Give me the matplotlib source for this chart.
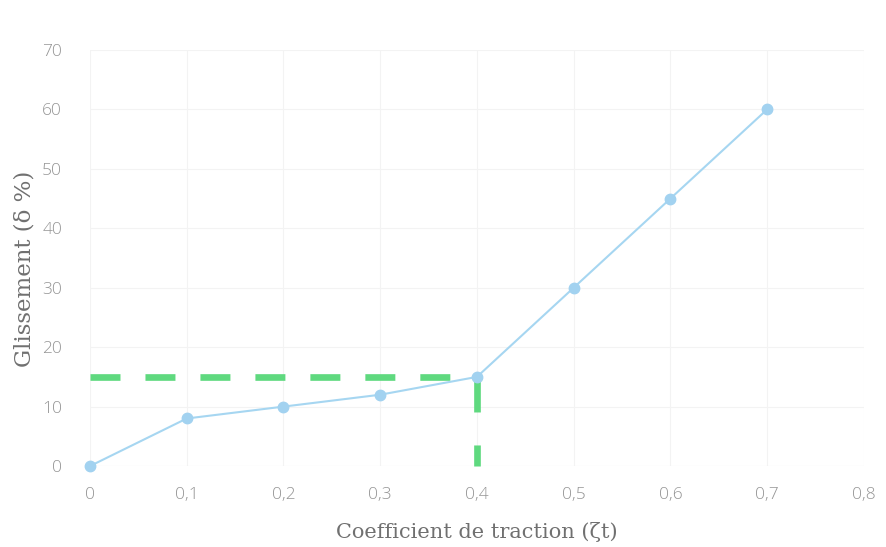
import matplotlib
matplotlib.use("Agg")
import matplotlib.pyplot as plt
from matplotlib.ticker import FuncFormatter

# Traction coefficient vs. wheel slip
traction = [0.0, 0.1, 0.2, 0.3, 0.4, 0.5, 0.6, 0.7]
slip = [0, 8, 10, 12, 15, 30, 45, 60]

# Operating point marked with the dashed guide
op_x = 0.4
op_y = 15

x_ticks = [0, 0.1, 0.2, 0.3, 0.4, 0.5, 0.6, 0.7, 0.8]
y_ticks = [0, 10, 20, 30, 40, 50, 60, 70]

fig = plt.figure(figsize=(8.86, 5.47), dpi=100)
ax = fig.add_axes([0.1016, 0.148, 0.8734, 0.7606])

ax.set_xlim(0, 0.8)
ax.set_ylim(0, 70)
ax.set_xticks(x_ticks)
ax.set_yticks(y_ticks)

ax.grid(True, color="#f3f3f3", linewidth=0.8, zorder=0)
ax.set_axisbelow(True)

for s in ax.spines.values():
    s.set_visible(False)
ax.axhline(0, color="#eeeeee", linewidth=0.8, zorder=1)

ax.plot(traction, slip, color="#a6d6f1", linewidth=1.5, marker="o",
        markersize=7.5, markerfacecolor="#a2d2f0", markeredgecolor="#a2d2f0",
        zorder=3, clip_on=False)

green = "#5fd97f"
lw = 4.8
ax.plot([0, op_x], [op_y, op_y], color=green, linewidth=lw,
        dashes=(30 / 6.67, 25 / 6.67), zorder=2, clip_on=False)
ax.plot([op_x, op_x], [op_y + 0.6, 0], color=green, linewidth=lw,
        dashes=(39 / 6.67, 33 / 6.67), zorder=2, clip_on=False)

fmt = lambda v, pos: ("%g" % v).replace(".", ",")
ax.xaxis.set_major_formatter(FuncFormatter(fmt))
ax.yaxis.set_major_formatter(FuncFormatter(fmt))

ax.tick_params(axis="both", length=0, colors="#959595", labelsize=12.5)
for lbl in ax.get_xticklabels() + ax.get_yticklabels():
    lbl.set_fontfamily("Open Sans")
    lbl.set_fontweight("light")
ax.tick_params(axis="x", pad=15)
ax.tick_params(axis="y", pad=20)

ax.set_xlabel("Coefficient de traction (ζt)", family="DejaVu Serif",
              fontsize=15, color="#707070", labelpad=14)
ax.set_ylabel("Glissement (δ %)", family="DejaVu Serif",
              fontsize=16.5, color="#707070")
ax.yaxis.set_label_coords(-0.071, 0.474)

fig.savefig("out.png", dpi=100, facecolor="white")
